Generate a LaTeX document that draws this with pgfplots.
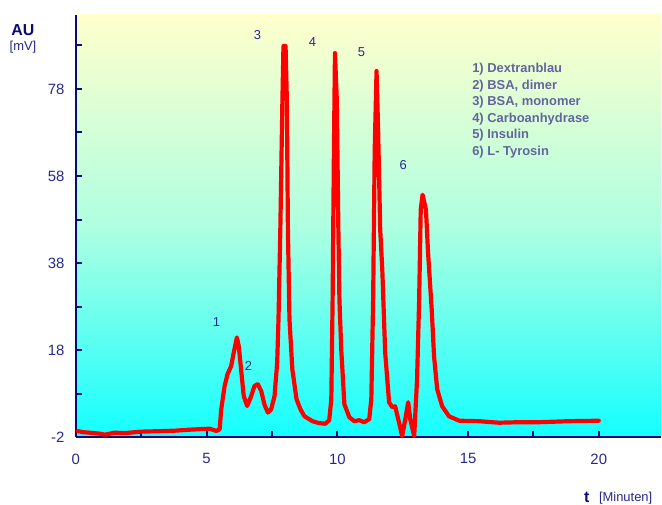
\documentclass[border=0pt]{standalone}
\usepackage{pgfplots}
\pgfplotsset{compat=1.18}
\usepackage{fontspec}
\setmainfont{Liberation Sans}

\definecolor{navy}{RGB}{10,10,120}
\definecolor{tickblue}{RGB}{40,40,140}
\definecolor{legtext}{RGB}{100,100,160}
\definecolor{bgtop}{RGB}{255,255,204}
\definecolor{bgmid}{RGB}{175,255,225}
\definecolor{bgbot}{RGB}{20,255,255}
\pgfdeclareverticalshading{chartbg}{100bp}{color(0bp)=(bgbot); color(25bp)=(bgbot); color(50bp)=(bgmid); color(75bp)=(bgtop); color(100bp)=(bgtop)}

\begin{document}
\begin{tikzpicture}
\begin{axis}[
    name=ax,
    scale only axis, width=586bp, height=423bp,
    xmin=0, xmax=22.37, ymin=-2, ymax=95,
    axis x line=bottom, axis y line=left,
    axis line style={navy, line width=2.5bp, -},
    axis background/.style={shade, shading=chartbg},
    xtick={0,5,10,15,20}, minor xtick={2.5,7.5,12.5,17.5},
    ytick={-2,18,38,58,78}, minor ytick={8,28,48,68,88},
    tick align=inside, major tick length=6bp, minor tick length=6bp,
    tick style={navy, line width=2bp},
    ticklabel style={font=\fontsize{15}{17}\selectfont, text=tickblue},
    /pgf/number format/assume math mode=true,
    xticklabel style={yshift=-13bp},
    yticklabel style={xshift=-8bp},
    clip=false,
]
% Chromatogramm
\addplot [color=red, line width=4.2bp, line join=round, line cap=round] coordinates {
(0.08,-0.62) (0.27,-0.85) (0.53,-0.97) (0.92,-1.20) (1.11,-1.43) (1.49,-0.97)
(1.87,-1.08) (2.44,-0.74) (3.21,-0.62) (3.78,-0.51) (4.35,-0.28) (5.11,-0.05)
(5.37,-0.56) (5.50,-0.17) (5.56,4.42) (5.69,9.76) (5.80,12.44) (5.94,14.34)
(6.04,17.48) (6.16,20.92) (6.23,18.93) (6.32,13.59) (6.42,7.47) (6.55,5.17)
(6.71,7.47) (6.83,9.76) (6.96,10.15) (7.09,8.61) (7.21,5.56) (7.34,3.66)
(7.47,4.42) (7.60,7.47) (7.70,15.19) (7.75,25.05) (7.82,45.68) (7.90,75.48)
(7.94,87.86) (8.02,87.86) (8.07,75.48) (8.11,45.68) (8.17,25.05) (8.28,13.59)
(8.44,6.71) (8.59,4.42) (8.74,2.81) (9.05,1.67) (9.31,1.21) (9.54,1.09)
(9.69,1.90) (9.77,6.71) (9.82,29.63) (9.87,64.02) (9.91,86.25) (9.98,75.48)
(10.04,45.68) (10.08,29.63) (10.15,18.17) (10.27,5.56) (10.46,2.58) (10.65,1.67)
(10.84,1.90) (11.03,1.44) (11.22,2.13) (11.30,6.71) (11.37,29.63) (11.43,64.02)
(11.50,82.13) (11.56,68.60) (11.64,45.68) (11.72,36.51) (11.83,17.48) (11.98,6.02)
(12.10,4.88) (12.21,5.11) (12.33,2.13) (12.48,-1.77) (12.60,2.13) (12.71,6.02)
(12.79,2.13) (12.94,-1.77) (13.05,11.29) (13.13,29.63) (13.19,50.26) (13.26,53.70)
(13.39,50.26) (13.47,40.41) (13.61,27.34) (13.70,16.57) (13.82,9.00) (14.01,5.11)
(14.27,2.81) (14.66,1.78) (15.42,1.67) (16.18,1.32) (16.95,1.44) (17.71,1.44)
(18.85,1.67) (20.00,1.78)
};
% Peak-Nummern
\begin{scope}[every node/.style={font=\fontsize{13}{15}\selectfont, text=tickblue}]
\node at (axis cs:5.38,24.4) {1};
\node at (axis cs:6.60,14.3) {2};
\node at (axis cs:6.95,90.4) {3};
\node at (axis cs:9.05,88.8) {4};
\node at (axis cs:10.92,86.5) {5};
\node at (axis cs:12.52,60.6) {6};
\end{scope}
\end{axis}
% Achsentitel
\node[font=\bfseries\fontsize{16}{18}\selectfont, text=navy] at ([shift={(-53bp,-15bp)}]ax.north west) {AU};
\node[font=\fontsize{13}{15}\selectfont, text=tickblue] at ([shift={(-53bp,-32bp)}]ax.north west) {[mV]};
\node[font=\bfseries\fontsize{16}{18}\selectfont, text=navy, anchor=base, inner sep=0pt] at ([shift={(-74bp,-65bp)}]ax.south east) {t};
\node[font=\fontsize{13}{15}\selectfont, text=tickblue, anchor=base west, inner sep=0pt] at ([shift={(-62bp,-64bp)}]ax.south east) {[Minuten]};
% Legende
\foreach \t [count=\i] in {1) Dextranblau, {2) BSA, dimer}, {3) BSA, monomer}, 4) Carboanhydrase, 5) Insulin, 6) L- Tyrosin}
  \node[font=\bfseries\fontsize{13}{15}\selectfont, text=legtext, anchor=base west, inner sep=0pt]
    at ([shift={(-189bp,{-58bp-16.5bp*(\i-1)})}]ax.north east) {\t};
% Seitenrand
\path (ax.south west) ++(-76bp,-67bp);
\path (ax.north east) ++(0bp,15bp);
\end{tikzpicture}
\end{document}
